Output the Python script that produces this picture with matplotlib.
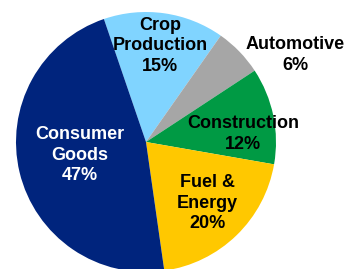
import matplotlib.pyplot as plt

labels = ["Crop\nProduction", "Automotive", "Construction", "Fuel &\nEnergy", "Consumer\nGoods"]
shares = [15, 6, 12, 20, 47]
colors = ["#80D4FF", "#A6A6A6", "#009A44", "#FFC800", "#00247D"]
text_colors = ["black", "black", "black", "black", "white"]

# label centres in pixel coords (y measured from top)
label_pos = [(160, 46), (295, 55), (243, 134), (207, 203), (80, 155)]

plt.rcParams["font.family"] = ["Liberation Sans", "DejaVu Sans"]

fig = plt.figure(figsize=(3.5, 2.69), dpi=100)
ax = fig.add_axes([0, 0, 1, 1])

ax.pie(shares, colors=colors, startangle=108.9, counterclock=False,
       center=(146, 127), radius=130, frame=True,
       wedgeprops=dict(linewidth=0))
ax.set_xlim(0, 350)
ax.set_ylim(0, 269)
ax.set_aspect("equal")
ax.axis("off")

for lab, val, (x, y), tc in zip(labels, shares, label_pos, text_colors):
    ax.text(x, 269 - y, f"{lab}\n{val}%", ha="center", va="center",
            fontsize=13, fontweight="bold", color=tc, linespacing=1.3)

fig.savefig("out.png", dpi=100)
